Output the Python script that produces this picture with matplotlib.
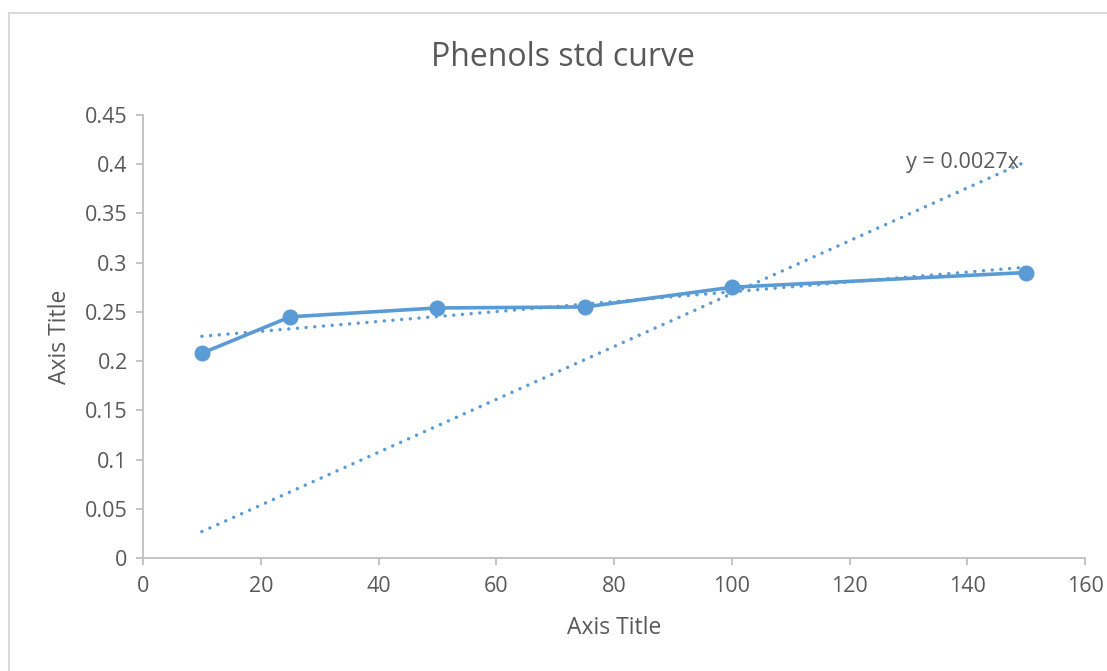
import numpy as np
import matplotlib.pyplot as plt
from matplotlib.ticker import FuncFormatter, MultipleLocator
from matplotlib.patches import Rectangle

# standard concentrations and absorbance readings
conc = [10, 25, 50, 75, 100, 150]
absorbance = [0.208, 0.245, 0.254, 0.255, 0.275, 0.290]
title = "Phenols std curve"

blue = "#5B9BD5"
grey_text = "#595959"
axis_grey = "#BFBFBF"
plt.rcParams['font.family'] = ['Open Sans', 'DejaVu Sans']

fig = plt.figure(figsize=(11.07, 6.71), dpi=100)
# chart area border (runs off the right and bottom of the picture)
fig.patches.append(Rectangle((9 / 1107, -0.1), 1.2, 1 - 13 / 671 + 0.1,
                             transform=fig.transFigure, fill=False,
                             edgecolor="#D9D9D9", linewidth=1.5))

ax = fig.add_axes([143 / 1107, 1 - 558 / 671, (1085 - 143) / 1107, (558 - 115) / 671])

x = np.array(conc, dtype=float)
y = np.array(absorbance)

# series
ax.plot(x, y, color=blue, linewidth=2.6, marker="o", markersize=10.5, zorder=3)

dots = (0, (0.01, 2.5))

# linear trendline
slope, intercept = np.polyfit(x, y, 1)
xs = np.array([x.min(), x.max()])
ax.plot(xs, slope * xs + intercept, color=blue, linewidth=2.5, linestyle=dots,
        dash_capstyle="round", zorder=2)

# trendline with intercept forced to zero
k = np.sum(x * y) / np.sum(x * x)
ax.plot(xs, k * xs, color=blue, linewidth=2.5, linestyle=dots,
        dash_capstyle="round", zorder=2)
ax.text(xs[-1] - 1.2, k * xs[-1] - 0.001, f"y = {k:.4f}x", ha="right", va="center",
        fontsize=15.5, color=grey_text)

ax.set_xlim(0, 160)
ax.set_ylim(0, 0.45)
ax.xaxis.set_major_locator(MultipleLocator(20))
ax.yaxis.set_major_locator(MultipleLocator(0.05))
ax.yaxis.set_major_formatter(FuncFormatter(lambda v, p: f"{v:.2f}".rstrip("0").rstrip(".") if v else "0"))

for s in ["top", "right"]:
    ax.spines[s].set_visible(False)
for s in ["left", "bottom"]:
    ax.spines[s].set_color(axis_grey)
    ax.spines[s].set_linewidth(1.3)
ax.tick_params(colors=axis_grey, labelcolor=grey_text, labelsize=15.5, length=5, width=1.3)
ax.tick_params(axis="x", pad=8)
ax.tick_params(axis="y", pad=6)

fig.text(563 / 1107, 1 - 57 / 671, title, fontsize=23, color=grey_text, ha="center", va="center")
ax.set_xlabel("Axis Title", fontsize=16.5, color=grey_text, labelpad=14)
ax.set_ylabel("Axis Title", fontsize=16.5, color=grey_text, labelpad=9)

fig.savefig("out.png", dpi=100)
